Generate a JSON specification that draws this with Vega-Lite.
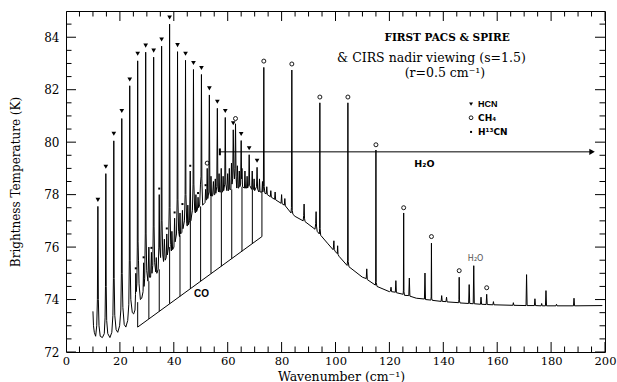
{
 "$schema": "https://vega.github.io/schema/vega-lite/v6.json",
 "width": 539, "height": 341,
 "autosize": {"type": "none"},
 "padding": {"left": 66, "top": 11, "right": 12, "bottom": 30},
 "background": "white",
 "config": {
  "view": {"stroke": "black", "strokeWidth": 1},
  "axis": {"labelColor": "black", "titleColor": "black", "domain": false, "grid": false, "ticks": false}
 },
 "resolve": {"scale": {"x": "shared", "y": "shared"}, "axis": {"x": "independent", "y": "independent"}},
 "layer": [
  {
   "data": {"values": [
    {"w":10.0,"t":73.55},{"w":10.2,"t":73.0},{"w":10.5,"t":72.75},{"w":11.0,"t":72.6},{"w":11.4,"t":73.0},{"w":11.65,"t":74.0},{"w":11.83,"t":77.55},{"w":12.0,"t":74.0},{"w":12.25,"t":73.0},{"w":12.7,"t":72.6},{"w":13.5,"t":72.55},{"w":14.2,"t":72.7},{"w":14.5,"t":73.3},{"w":14.65,"t":74.5},{"w":14.78,"t":78.8},{"w":14.92,"t":74.5},{"w":15.1,"t":73.2},{"w":15.5,"t":72.7},{"w":16.3,"t":72.55},{"w":17.0,"t":72.75},{"w":17.4,"t":73.4},{"w":17.6,"t":74.8},{"w":17.74,"t":80.05},{"w":17.88,"t":74.8},{"w":18.1,"t":73.4},{"w":18.6,"t":72.85},{"w":19.2,"t":72.75},{"w":19.9,"t":73.0},{"w":20.35,"t":73.6},{"w":20.55,"t":75.0},{"w":20.7,"t":80.9},{"w":20.85,"t":75.0},{"w":21.1,"t":73.7},{"w":21.6,"t":73.05},{"w":22.2,"t":72.95},{"w":22.9,"t":73.2},{"w":23.3,"t":73.8},{"w":23.5,"t":75.5},{"w":23.65,"t":82.15},{"w":23.8,"t":75.5},{"w":24.05,"t":74.0},{"w":24.6,"t":73.5},{"w":25.1,"t":73.45},
    {"w":25.6,"t":73.6},{"w":25.8,"t":74.2},{"w":25.9,"t":75.0},{"w":26.05,"t":74.3},{"w":26.3,"t":74.6},{"w":26.45,"t":76.0},{"w":26.6,"t":83.1},{"w":26.75,"t":76.2},{"w":26.9,"t":75.5},{"w":27.1,"t":74.6},{"w":27.6,"t":74.0},{"w":28.1,"t":74.05},{"w":28.6,"t":74.3},{"w":28.8,"t":75.4},{"w":28.95,"t":74.5},{"w":29.2,"t":74.8},{"w":29.42,"t":76.5},{"w":29.57,"t":83.43},{"w":29.72,"t":76.5},{"w":29.95,"t":75.1},{"w":30.4,"t":74.7},{"w":30.75,"t":76.0},{"w":30.95,"t":74.85},{"w":31.4,"t":74.85},{"w":31.7,"t":75.8},{"w":31.9,"t":75.0},{"w":32.2,"t":75.3},{"w":32.38,"t":76.8},{"w":32.53,"t":83.24},{"w":32.68,"t":76.8},{"w":32.9,"t":75.4},{"w":33.3,"t":75.05},{"w":33.5,"t":75.6},{"w":33.7,"t":75.0},{"w":34.2,"t":75.15},{"w":34.45,"t":76.0},{"w":34.6,"t":78.0},{"w":34.75,"t":76.0},{"w":35.1,"t":75.6},{"w":35.33,"t":77.0},{"w":35.48,"t":83.66},{"w":35.63,"t":77.0},{"w":35.9,"t":75.7},{"w":36.2,"t":75.45},{"w":36.5,"t":76.3},{"w":36.8,"t":75.5},{"w":37.2,"t":75.6},{"w":37.4,"t":76.5},{"w":37.6,"t":75.7},{"w":38.05,"t":76.0},{"w":38.29,"t":77.5},{"w":38.44,"t":84.5},{"w":38.59,"t":77.5},{"w":38.85,"t":76.1},{"w":39.1,"t":75.85},{"w":39.3,"t":76.6},{"w":39.55,"t":75.9},{"w":40.05,"t":76.0},{"w":40.3,"t":77.1},{"w":40.5,"t":76.2},{"w":41.0,"t":76.5},{"w":41.24,"t":77.8},{"w":41.39,"t":83.45},{"w":41.54,"t":77.8},{"w":41.8,"t":76.6},{"w":42.1,"t":76.4},{"w":42.3,"t":77.3},{"w":42.5,"t":76.5},{"w":43.0,"t":76.55},{"w":43.2,"t":77.4},{"w":43.4,"t":76.7},{"w":43.95,"t":77.0},{"w":44.2,"t":78.0},{"w":44.35,"t":83.12},{"w":44.5,"t":78.0},{"w":44.8,"t":76.9},{"w":45.0,"t":76.8},{"w":45.2,"t":77.6},{"w":45.45,"t":76.85},{"w":45.85,"t":77.0},{"w":46.1,"t":78.9},{"w":46.3,"t":77.0},{"w":46.9,"t":77.4},{"w":47.15,"t":78.4},{"w":47.3,"t":82.77},{"w":47.45,"t":78.4},{"w":47.75,"t":77.4},{"w":48.0,"t":77.3},{"w":48.2,"t":78.0},{"w":48.45,"t":77.35},{"w":48.8,"t":77.45},{"w":49.0,"t":77.9},{"w":49.2,"t":77.5},{"w":49.6,"t":77.6},{"w":49.9,"t":78.4},{"w":50.1,"t":78.7},{"w":50.26,"t":82.58},{"w":50.42,"t":78.6},{"w":50.7,"t":77.6},{"w":51.2,"t":77.65},{"w":51.6,"t":77.7},{"w":51.8,"t":78.2},{"w":52.0,"t":77.8},{"w":52.2,"t":77.8},{"w":52.4,"t":79.0},{"w":52.6,"t":77.85},{"w":53.0,"t":78.1},{"w":53.2,"t":81.8},{"w":53.4,"t":78.1},{"w":53.65,"t":77.95},{"w":53.8,"t":78.7},{"w":54.0,"t":77.95},{"w":54.4,"t":77.95},{"w":54.7,"t":78.5},{"w":54.95,"t":78.0},{"w":55.2,"t":78.0},{"w":55.4,"t":78.6},{"w":55.6,"t":78.05},{"w":55.95,"t":78.3},{"w":56.16,"t":81.29},{"w":56.35,"t":78.3},{"w":56.6,"t":78.1},{"w":56.8,"t":78.8},{"w":57.0,"t":78.1},{"w":57.4,"t":78.1},{"w":57.6,"t":79.0},{"w":57.8,"t":78.1},{"w":58.1,"t":78.1},{"w":58.3,"t":78.7},{"w":58.5,"t":78.15},{"w":58.9,"t":78.4},{"w":59.1,"t":80.94},{"w":59.3,"t":78.4},{"w":59.7,"t":78.15},{"w":60.0,"t":78.8},{"w":60.25,"t":78.15},{"w":60.45,"t":78.2},{"w":60.6,"t":79.0},{"w":60.8,"t":78.2},{"w":61.2,"t":78.2},{"w":61.4,"t":79.2},{"w":61.6,"t":78.4},{"w":61.85,"t":78.6},{"w":62.06,"t":80.47},{"w":62.3,"t":78.9},{"w":62.5,"t":78.6},{"w":62.7,"t":79.0},{"w":62.9,"t":80.7},{"w":63.1,"t":78.7},{"w":63.35,"t":78.25},{"w":63.6,"t":79.1},{"w":63.85,"t":78.25},{"w":64.1,"t":78.25},{"w":64.3,"t":78.9},{"w":64.5,"t":78.3},{"w":64.8,"t":78.4},{"w":65.0,"t":80.06},{"w":65.15,"t":78.6},{"w":65.3,"t":79.0},{"w":65.5,"t":78.3},{"w":66.2,"t":78.25},{"w":66.4,"t":78.9},{"w":66.6,"t":78.25},{"w":67.0,"t":78.25},{"w":67.2,"t":78.7},{"w":67.4,"t":78.25},{"w":67.8,"t":78.4},{"w":67.97,"t":79.52},{"w":68.15,"t":78.35},{"w":68.9,"t":78.2},{"w":69.1,"t":78.9},{"w":69.3,"t":78.2},{"w":69.6,"t":78.2},{"w":69.8,"t":78.6},{"w":70.0,"t":78.15},{"w":70.7,"t":78.3},{"w":70.9,"t":79.04},{"w":71.1,"t":78.2},{"w":71.6,"t":78.1},{"w":71.8,"t":78.6},{"w":72.0,"t":78.1},{"w":72.7,"t":78.1},{"w":72.9,"t":78.5},{"w":73.05,"t":78.1},{"w":73.25,"t":78.3},{"w":73.4,"t":82.85},{"w":73.55,"t":78.3},{"w":73.8,"t":78.05},{"w":74.3,"t":78.03},{"w":74.5,"t":78.3},{"w":74.7,"t":78.0},{"w":75.8,"t":77.92},{"w":76.0,"t":78.15},{"w":76.2,"t":77.9},{"w":77.4,"t":77.82},{"w":77.6,"t":78.1},{"w":77.8,"t":77.8},{"w":79.8,"t":77.67},{"w":80.0,"t":78.0},{"w":80.2,"t":77.65},{"w":81.0,"t":77.6},{"w":81.2,"t":77.85},{"w":81.4,"t":77.57},{"w":83.5,"t":77.3},{"w":83.65,"t":77.5},{"w":83.8,"t":82.75},{"w":83.95,"t":77.4},{"w":84.2,"t":77.25},{"w":85.0,"t":77.17},{"w":88.0,"t":77.0},{"w":88.2,"t":77.2},{"w":88.35,"t":77.64},{"w":88.5,"t":77.1},{"w":88.7,"t":76.97},{"w":92.4,"t":76.68},{"w":92.65,"t":76.9},{"w":92.8,"t":77.35},{"w":92.95,"t":76.8},{"w":93.2,"t":76.6},{"w":94.0,"t":76.5},{"w":94.1,"t":76.7},{"w":94.2,"t":81.5},{"w":94.3,"t":76.7},{"w":94.5,"t":76.45},{"w":97.0,"t":76.15},{"w":99.1,"t":75.9},{"w":99.25,"t":76.0},{"w":99.4,"t":76.24},{"w":99.55,"t":75.9},{"w":100.0,"t":75.82},{"w":100.65,"t":75.75},{"w":100.8,"t":76.05},{"w":100.95,"t":75.72},{"w":101.3,"t":75.65},{"w":104.3,"t":75.3},{"w":104.5,"t":75.5},{"w":104.6,"t":81.5},{"w":104.7,"t":75.45},{"w":105.0,"t":75.25},{"w":110.0,"t":74.85},{"w":111.4,"t":74.8},{"w":111.6,"t":75.17},{"w":111.8,"t":74.76},{"w":114.8,"t":74.55},{"w":114.9,"t":74.7},{"w":115.0,"t":79.7},{"w":115.1,"t":74.65},{"w":115.4,"t":74.5},{"w":120.0,"t":74.3},{"w":120.4,"t":74.32},{"w":120.6,"t":74.47},{"w":120.8,"t":74.3},{"w":122.2,"t":74.28},{"w":122.4,"t":74.72},{"w":122.6,"t":74.26},{"w":125.1,"t":74.2},{"w":125.2,"t":74.35},{"w":125.3,"t":77.3},{"w":125.4,"t":74.3},{"w":125.6,"t":74.16},{"w":127.2,"t":74.15},{"w":127.4,"t":74.82},{"w":127.6,"t":74.13},{"w":130.0,"t":74.05},{"w":133.0,"t":74.02},{"w":133.2,"t":75.01},{"w":133.4,"t":74.0},{"w":135.4,"t":73.98},{"w":135.5,"t":74.1},{"w":135.6,"t":76.15},{"w":135.7,"t":74.05},{"w":135.9,"t":73.97},{"w":139.2,"t":73.93},{"w":139.4,"t":74.15},{"w":139.6,"t":73.93},{"w":141.0,"t":73.92},{"w":141.2,"t":74.09},{"w":141.4,"t":73.91},{"w":145.7,"t":73.88},{"w":145.8,"t":74.0},{"w":145.9,"t":74.85},{"w":146.0,"t":73.95},{"w":146.2,"t":73.87},{"w":149.4,"t":73.85},{"w":149.6,"t":74.57},{"w":149.8,"t":73.85},{"w":151.1,"t":73.84},{"w":151.3,"t":75.29},{"w":151.5,"t":73.84},{"w":153.8,"t":73.82},{"w":154.0,"t":74.09},{"w":154.2,"t":73.82},{"w":155.9,"t":73.81},{"w":156.1,"t":74.2},{"w":156.3,"t":73.81},{"w":158.4,"t":73.8},{"w":158.6,"t":73.92},{"w":158.8,"t":73.8},{"w":165.8,"t":73.78},{"w":166.0,"t":73.88},{"w":166.2,"t":73.78},{"w":170.7,"t":73.77},{"w":170.9,"t":74.95},{"w":171.1,"t":73.77},{"w":173.8,"t":73.77},{"w":174.0,"t":74.03},{"w":174.2,"t":73.77},{"w":176.3,"t":73.76},{"w":176.5,"t":73.85},{"w":176.7,"t":73.76},{"w":177.9,"t":73.76},{"w":178.1,"t":74.34},{"w":178.3,"t":73.76},{"w":181.8,"t":73.76},{"w":182.0,"t":73.82},{"w":182.2,"t":73.76},{"w":188.3,"t":73.76},{"w":188.5,"t":74.05},{"w":188.7,"t":73.76},{"w":199.0,"t":73.77}
   ]},
   "mark": {"type": "line", "color": "black", "strokeWidth": 1},
   "encoding": {
    "x": {"field": "w", "type": "quantitative", "scale": {"domain": [0, 200], "nice": false, "zero": false},
     "axis": {"orient": "bottom", "values": [0,20,40,60,80,100,120,140,160,180,200], "title": "Wavenumber (cm⁻¹)", "labelPadding": 3, "labelFont": "DejaVu Serif", "labelFontSize": 11.5, "labelFlush": false, "labelOverlap": false, "labelBound": false, "titleFont": "DejaVu Serif", "titleFontSize": 12.5, "titleFontWeight": "normal", "titleX": 275, "titleY": 28, "titleAlign": "center", "titleBaseline": "alphabetic"}},
    "y": {"field": "t", "type": "quantitative", "scale": {"domain": [72, 85], "nice": false, "zero": false},
     "axis": {"orient": "left", "values": [72,74,76,78,80,82,84], "title": "Brightness Temperature (K)", "labelPadding": 7, "labelFont": "DejaVu Serif", "labelFontSize": 12, "labelFlush": false, "labelOverlap": false, "labelBound": false, "titleFont": "DejaVu Serif", "titleFontSize": 12, "titleFontWeight": "normal", "titleX": -51, "titleY": 170.5, "titleAngle": -90, "titleAlign": "center", "titleBaseline": "middle"}}
   }
  },
  {
   "data": {"values": [{"v":0},{"v":20},{"v":40},{"v":60},{"v":80},{"v":100},{"v":120},{"v":140},{"v":160},{"v":180},{"v":200}]},
   "mark": {"type": "tick", "orient": "vertical", "size": 20, "thickness": 1, "color": "black", "opacity": 1, "clip": true},
   "encoding": {"x": {"field": "v", "type": "quantitative", "axis": null}, "y": {"datum": 72, "type": "quantitative", "axis": null}}
  },
  {
   "data": {"values": [{"v":0},{"v":20},{"v":40},{"v":60},{"v":80},{"v":100},{"v":120},{"v":140},{"v":160},{"v":180},{"v":200}]},
   "mark": {"type": "tick", "orient": "vertical", "size": 20, "thickness": 1, "color": "black", "opacity": 1, "clip": true},
   "encoding": {"x": {"field": "v", "type": "quantitative", "axis": null}, "y": {"datum": 85, "type": "quantitative", "axis": null}}
  },
  {
   "data": {"values": [{"v":5},{"v":10},{"v":15},{"v":25},{"v":30},{"v":35},{"v":45},{"v":50},{"v":55},{"v":65},{"v":70},{"v":75},{"v":85},{"v":90},{"v":95},{"v":105},{"v":110},{"v":115},{"v":125},{"v":130},{"v":135},{"v":145},{"v":150},{"v":155},{"v":165},{"v":170},{"v":175},{"v":185},{"v":190},{"v":195}]},
   "mark": {"type": "tick", "orient": "vertical", "size": 11, "thickness": 1, "color": "black", "opacity": 1, "clip": true},
   "encoding": {"x": {"field": "v", "type": "quantitative", "axis": null}, "y": {"datum": 72, "type": "quantitative", "axis": null}}
  },
  {
   "data": {"values": [{"v":5},{"v":10},{"v":15},{"v":25},{"v":30},{"v":35},{"v":45},{"v":50},{"v":55},{"v":65},{"v":70},{"v":75},{"v":85},{"v":90},{"v":95},{"v":105},{"v":110},{"v":115},{"v":125},{"v":130},{"v":135},{"v":145},{"v":150},{"v":155},{"v":165},{"v":170},{"v":175},{"v":185},{"v":190},{"v":195}]},
   "mark": {"type": "tick", "orient": "vertical", "size": 11, "thickness": 1, "color": "black", "opacity": 1, "clip": true},
   "encoding": {"x": {"field": "v", "type": "quantitative", "axis": null}, "y": {"datum": 85, "type": "quantitative", "axis": null}}
  },
  {
   "data": {"values": [{"v":72},{"v":74},{"v":76},{"v":78},{"v":80},{"v":82},{"v":84}]},
   "mark": {"type": "tick", "orient": "horizontal", "size": 20, "thickness": 1, "color": "black", "opacity": 1, "clip": true},
   "encoding": {"y": {"field": "v", "type": "quantitative", "axis": null}, "x": {"datum": 0, "type": "quantitative", "axis": null}}
  },
  {
   "data": {"values": [{"v":72},{"v":74},{"v":76},{"v":78},{"v":80},{"v":82},{"v":84}]},
   "mark": {"type": "tick", "orient": "horizontal", "size": 20, "thickness": 1, "color": "black", "opacity": 1, "clip": true},
   "encoding": {"y": {"field": "v", "type": "quantitative", "axis": null}, "x": {"datum": 200, "type": "quantitative", "axis": null}}
  },
  {
   "data": {"values": [{"v":72.5},{"v":73},{"v":73.5},{"v":74.5},{"v":75},{"v":75.5},{"v":76.5},{"v":77},{"v":77.5},{"v":78.5},{"v":79},{"v":79.5},{"v":80.5},{"v":81},{"v":81.5},{"v":82.5},{"v":83},{"v":83.5},{"v":84.5}]},
   "mark": {"type": "tick", "orient": "horizontal", "size": 11, "thickness": 1, "color": "black", "opacity": 1, "clip": true},
   "encoding": {"y": {"field": "v", "type": "quantitative", "axis": null}, "x": {"datum": 0, "type": "quantitative", "axis": null}}
  },
  {
   "data": {"values": [{"v":72.5},{"v":73},{"v":73.5},{"v":74.5},{"v":75},{"v":75.5},{"v":76.5},{"v":77},{"v":77.5},{"v":78.5},{"v":79},{"v":79.5},{"v":80.5},{"v":81},{"v":81.5},{"v":82.5},{"v":83},{"v":83.5},{"v":84.5}]},
   "mark": {"type": "tick", "orient": "horizontal", "size": 11, "thickness": 1, "color": "black", "opacity": 1, "clip": true},
   "encoding": {"y": {"field": "v", "type": "quantitative", "axis": null}, "x": {"datum": 200, "type": "quantitative", "axis": null}}
  },
  {
   "data": {"values": [
    {"w":26.6,"lo":72.95,"hi":73.9},{"w":30.75,"lo":73.26,"hi":74.7},{"w":34.6,"lo":73.55,"hi":75.15},{"w":38.45,"lo":73.84,"hi":76.0},{"w":42.3,"lo":74.12,"hi":76.45},{"w":46.15,"lo":74.41,"hi":77.0},{"w":49.95,"lo":74.7,"hi":77.55},{"w":53.8,"lo":74.99,"hi":77.95},{"w":57.65,"lo":75.27,"hi":78.1},{"w":61.5,"lo":75.56,"hi":78.2},{"w":65.3,"lo":75.84,"hi":78.3},{"w":69.15,"lo":76.13,"hi":78.2},{"w":72.7,"lo":76.4,"hi":78.1}
   ]},
   "mark": {"type": "rule", "color": "black", "strokeWidth": 1},
   "encoding": {
    "x": {"field": "w", "type": "quantitative", "axis": null},
    "y": {"field": "lo", "type": "quantitative", "axis": null},
    "y2": {"field": "hi"}
   }
  },
  {
   "data": {"values": [{"w":26.6,"t":72.95},{"w":72.7,"t":76.4}]},
   "mark": {"type": "line", "color": "black", "strokeWidth": 1},
   "encoding": {
    "x": {"field": "w", "type": "quantitative", "axis": null},
    "y": {"field": "t", "type": "quantitative", "axis": null}
   }
  },
  {
   "data": {"values": [{"w":57.1,"w2":194.5,"t":79.63}]},
   "mark": {"type": "rule", "color": "black", "strokeWidth": 1},
   "encoding": {
    "x": {"field": "w", "type": "quantitative", "axis": null},
    "x2": {"field": "w2"},
    "y": {"field": "t", "type": "quantitative", "axis": null}
   }
  },
  {
   "data": {"values": [{"w":57.1,"lo":79.5,"hi":79.76}]},
   "mark": {"type": "rule", "color": "black", "strokeWidth": 2},
   "encoding": {
    "x": {"field": "w", "type": "quantitative", "axis": null},
    "y": {"field": "lo", "type": "quantitative", "axis": null},
    "y2": {"field": "hi"}
   }
  },
  {
   "data": {"values": [{"w":195.2,"t":79.63}]},
   "mark": {"type": "point", "shape": "triangle-right", "filled": true, "color": "black", "opacity": 1, "size": 40},
   "encoding": {
    "x": {"field": "w", "type": "quantitative", "axis": null},
    "y": {"field": "t", "type": "quantitative", "axis": null}
   }
  },
  {
   "data": {"values": [
    {"w":11.83,"t":77.8},{"w":14.78,"t":79.06},{"w":17.74,"t":80.32},{"w":20.7,"t":81.19},{"w":23.65,"t":82.39},{"w":26.6,"t":83.37},{"w":29.57,"t":83.68},{"w":32.53,"t":83.49},{"w":35.48,"t":83.91},{"w":38.44,"t":84.75},{"w":41.39,"t":83.7},{"w":44.35,"t":83.37},{"w":47.3,"t":83.02},{"w":50.26,"t":82.83},{"w":53.2,"t":82.05},{"w":56.16,"t":81.54},{"w":59.1,"t":81.19},{"w":62.06,"t":80.72},{"w":65.0,"t":80.31},{"w":67.97,"t":79.77},{"w":70.9,"t":79.29}
   ]},
   "mark": {"type": "point", "shape": "triangle-down", "filled": true, "color": "black", "opacity": 1, "size": 22},
   "encoding": {
    "x": {"field": "w", "type": "quantitative", "axis": null},
    "y": {"field": "t", "type": "quantitative", "axis": null}
   }
  },
  {
   "data": {"values": [
    {"w":52.4,"t":79.2},{"w":62.9,"t":80.9},{"w":73.4,"t":83.09},{"w":83.8,"t":82.98},{"w":94.2,"t":81.72},{"w":104.6,"t":81.72},{"w":115.0,"t":79.9},{"w":125.3,"t":77.5},{"w":135.6,"t":76.4},{"w":145.9,"t":75.1},{"w":156.1,"t":74.45}
   ]},
   "mark": {"type": "point", "shape": "circle", "filled": false, "color": "black", "opacity": 1, "strokeWidth": 0.9, "size": 16},
   "encoding": {
    "x": {"field": "w", "type": "quantitative", "axis": null},
    "y": {"field": "t", "type": "quantitative", "axis": null}
   }
  },
  {
   "data": {"values": [
    {"w":25.9,"t":75.19},{"w":28.8,"t":75.61},{"w":31.7,"t":75.97},{"w":34.6,"t":78.23},{"w":37.4,"t":76.71},{"w":40.3,"t":77.32},{"w":43.2,"t":77.64},{"w":46.1,"t":79.1},{"w":49.0,"t":78.06},{"w":51.8,"t":78.36}
   ]},
   "mark": {"type": "point", "shape": "square", "filled": true, "color": "black", "opacity": 1, "size": 4},
   "encoding": {
    "x": {"field": "w", "type": "quantitative", "axis": null},
    "y": {"field": "t", "type": "quantitative", "axis": null}
   }
  },
  {
   "data": {"values": [{}]},
   "mark": {"type": "point", "shape": "triangle-down", "filled": true, "color": "black", "opacity": 1, "size": 16},
   "encoding": {"x": {"datum": 150.3, "type": "quantitative", "axis": null}, "y": {"datum": 81.45, "type": "quantitative", "axis": null}}
  },
  {
   "data": {"values": [{}]},
   "mark": {"type": "point", "shape": "circle", "filled": false, "color": "black", "opacity": 1, "strokeWidth": 0.9, "size": 14},
   "encoding": {"x": {"datum": 150.3, "type": "quantitative", "axis": null}, "y": {"datum": 80.93, "type": "quantitative", "axis": null}}
  },
  {
   "data": {"values": [{}]},
   "mark": {"type": "point", "shape": "square", "filled": true, "color": "black", "opacity": 1, "size": 4},
   "encoding": {"x": {"datum": 150.3, "type": "quantitative", "axis": null}, "y": {"datum": 80.39, "type": "quantitative", "axis": null}}
  },
  {
   "data": {"values": [{}]},
   "mark": {"type": "text", "text": "HCN", "font": "Liberation Sans", "fontWeight": "bold", "fontSize": 9, "align": "left", "baseline": "middle", "color": "black"},
   "encoding": {"x": {"datum": 152.9, "type": "quantitative", "axis": null}, "y": {"datum": 81.45, "type": "quantitative", "axis": null}}
  },
  {
   "data": {"values": [{}]},
   "mark": {"type": "text", "text": "CH₄", "font": "DejaVu Sans", "fontWeight": "bold", "fontSize": 9, "align": "left", "baseline": "middle", "color": "black"},
   "encoding": {"x": {"datum": 152.9, "type": "quantitative", "axis": null}, "y": {"datum": 80.93, "type": "quantitative", "axis": null}}
  },
  {
   "data": {"values": [{}]},
   "mark": {"type": "text", "text": "H¹³CN", "font": "DejaVu Sans", "fontWeight": "bold", "fontSize": 9, "align": "left", "baseline": "middle", "color": "black"},
   "encoding": {"x": {"datum": 152.9, "type": "quantitative", "axis": null}, "y": {"datum": 80.39, "type": "quantitative", "axis": null}}
  },
  {
   "data": {"values": [{}]},
   "mark": {"type": "text", "text": "FIRST PACS & SPIRE", "font": "DejaVu Serif", "fontWeight": "bold", "fontSize": 10.5, "align": "center", "baseline": "middle", "color": "black"},
   "encoding": {"x": {"datum": 141.4, "type": "quantitative", "axis": null}, "y": {"datum": 83.97, "type": "quantitative", "axis": null}}
  },
  {
   "data": {"values": [{}]},
   "mark": {"type": "text", "text": "& CIRS nadir viewing (s=1.5)", "font": "DejaVu Serif", "fontSize": 12.5, "align": "center", "baseline": "middle", "color": "black"},
   "encoding": {"x": {"datum": 135.6, "type": "quantitative", "axis": null}, "y": {"datum": 83.2, "type": "quantitative", "axis": null}}
  },
  {
   "data": {"values": [{}]},
   "mark": {"type": "text", "text": "(r=0.5 cm⁻¹)", "font": "DejaVu Serif", "fontSize": 12.5, "align": "center", "baseline": "middle", "color": "black"},
   "encoding": {"x": {"datum": 140.6, "type": "quantitative", "axis": null}, "y": {"datum": 82.62, "type": "quantitative", "axis": null}}
  },
  {
   "data": {"values": [{}]},
   "mark": {"type": "text", "text": "H₂O", "font": "DejaVu Sans", "fontWeight": "bold", "fontSize": 9.5, "align": "center", "baseline": "middle", "color": "black"},
   "encoding": {"x": {"datum": 133.0, "type": "quantitative", "axis": null}, "y": {"datum": 79.17, "type": "quantitative", "axis": null}}
  },
  {
   "data": {"values": [{}]},
   "mark": {"type": "text", "text": "CO", "font": "Liberation Sans", "fontWeight": "bold", "fontSize": 10, "align": "center", "baseline": "middle", "color": "black"},
   "encoding": {"x": {"datum": 50.3, "type": "quantitative", "axis": null}, "y": {"datum": 74.22, "type": "quantitative", "axis": null}}
  },
  {
   "data": {"values": [{}]},
   "mark": {"type": "text", "text": "H₂O", "font": "DejaVu Sans", "fontSize": 8, "align": "center", "baseline": "middle", "color": "#555555"},
   "encoding": {"x": {"datum": 152.0, "type": "quantitative", "axis": null}, "y": {"datum": 75.55, "type": "quantitative", "axis": null}}
  }
 ]
}
